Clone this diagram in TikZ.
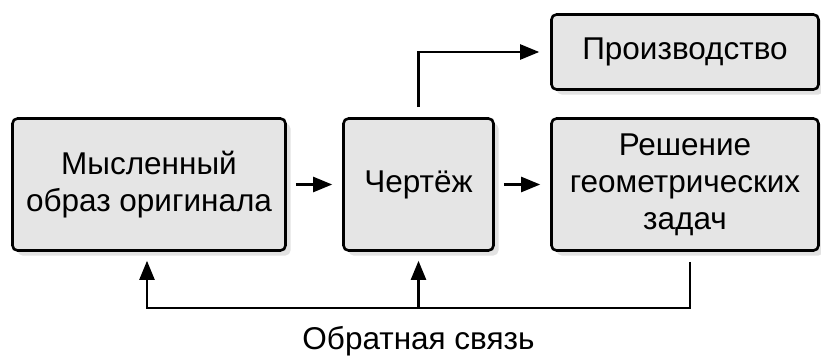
\documentclass[tikz,border=0pt]{standalone}
\usepackage{fontspec}
\setmainfont{Liberation Sans}
\usetikzlibrary{arrows.meta,shadows}
\begin{document}
\begin{tikzpicture}[x=1pt,y=-1pt]
\tikzstyle{every node}+=[inner sep=0pt]
\tikzstyle{blk}=[draw=black, line width=2.6pt, rounded corners=5pt, fill=gray!20, drop shadow={shadow xshift=5pt,shadow yshift=-5pt,fill=gray!45}, align=center, font=\fontsize{31.5}{37}\selectfont]
\tikzstyle{arr}=[line width=2.3pt, -{Triangle[length=19pt,width=15pt]}]
\useasboundingbox (0,0) rectangle (821,361);
\node [blk, minimum width=273pt, minimum height=132pt] (obraz) at (149,184.5) {Мысленный\\образ оригинала};
\node [blk, minimum width=150pt, minimum height=132pt] (cherteg) at (418.5,184.5) {Чертёж};
\node [blk, minimum width=267pt, minimum height=75pt] (proizv) at (685,52) {Производство};
\node [blk, minimum width=267pt, minimum height=132pt] (resh) at (685,184.5) {Решение\\геометрических\\задач};
\draw [arr, shorten <=9pt, shorten >=10pt] (obraz) -- (cherteg);
\draw [arr, shorten <=9pt, shorten >=10pt] (cherteg) -- (resh);
\draw [arr, shorten <=10pt, shorten >=11pt] (cherteg.north) |- (proizv.west);
\coordinate (fb) at (418.5,308);
\draw [arr, shorten <=10pt, shorten >=9pt] ([xshift=5pt]resh.south) |- (fb) -| ([xshift=-2pt]obraz.south);
\draw [arr, shorten >=9pt] (fb) -- (cherteg.south);
\node [font=\fontsize{31.5}{37}\selectfont] (svyaz) at (418.5,341) {Обратная связь};
\end{tikzpicture}
\end{document}
